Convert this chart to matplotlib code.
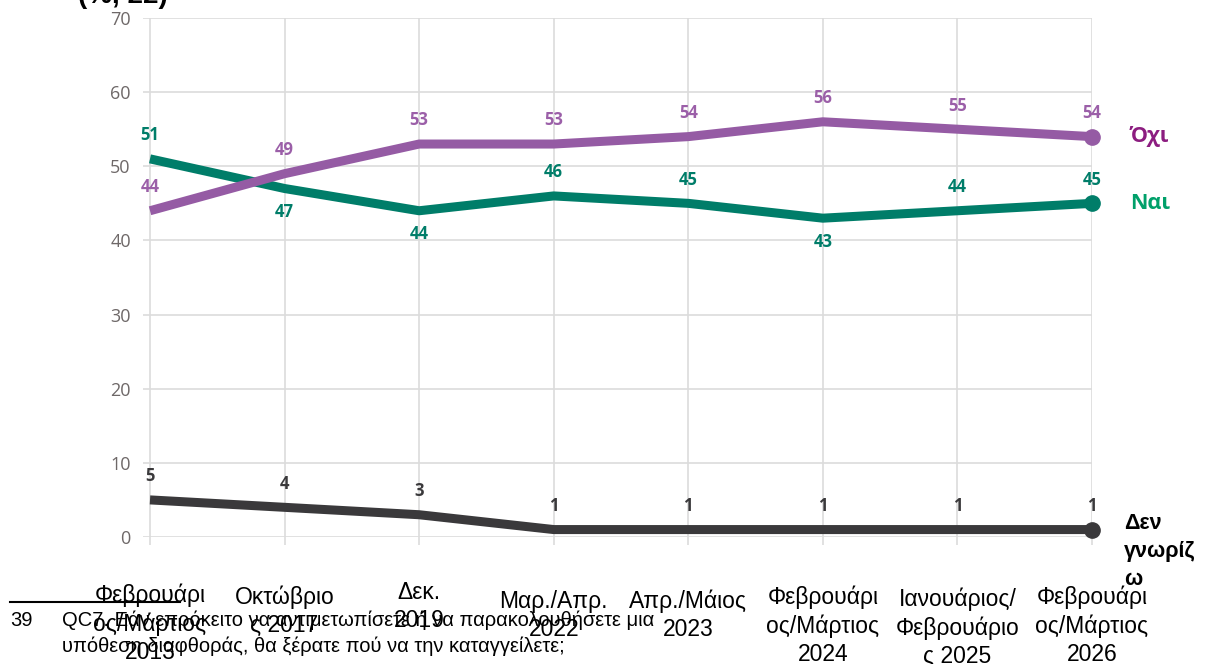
import matplotlib
matplotlib.use("Agg")
import matplotlib.pyplot as plt
import matplotlib.transforms as mtransforms

categories = ["Φεβρουάρι\nος/Μάρτιος\n2013", "Οκτώβριο\nς 2017", "Δεκ.\n2019",
              "Μαρ./Απρ.\n2022", "Απρ./Μάιος\n2023", "Φεβρουάρι\nος/Μάρτιος\n2024",
              "Ιανουάριος/\nΦεβρουάριο\nς 2025", "Φεβρουάρι\nος/Μάρτιος\n2026"]
ochi = [44, 49, 53, 53, 54, 56, 55, 54]
nai = [51, 47, 44, 46, 45, 43, 44, 45]
den = [5, 4, 3, 1, 1, 1, 1, 1]
nai_label_above = [True, False, False, True, True, False, True, True]
yticks = [0, 10, 20, 30, 40, 50, 60, 70]

# layout: first-line baseline of each category label (pixels from top)
cat_baseline_px = [601, 603, 598, 607, 607, 603, 605, 603]

c_ochi, c_ochi_txt, c_ochi_end = "#955ba4", "#9b5fa8", "#8c1d80"
c_nai, c_nai_txt, c_nai_end = "#007d69", "#007d69", "#00a06a"
c_den = "#3a393b"

W, H = 1205, 664
fig = plt.figure(figsize=(W / 100, H / 100), dpi=100)
ax = fig.add_axes([0.1189, 0.1913, 0.7873, 0.7816])
x = list(range(len(categories)))

lw = 6.5
for vals, col in [(den, c_den), (nai, c_nai), (ochi, c_ochi)]:
    ax.plot(x, vals, color=col, lw=lw, solid_capstyle="butt", solid_joinstyle="round",
            clip_on=False, zorder=3)
    ax.plot(x[-1], vals[-1], "o", color=col, ms=11, clip_on=False, zorder=4)

lab_font = dict(family="Open Sans", fontweight="bold", fontsize=12)
off = 17
for i in x:
    ax.annotate(str(ochi[i]), (i, ochi[i]), xytext=(0, off), textcoords="offset points",
                ha="center", va="center", color=c_ochi_txt, **lab_font)
    dy = off if nai_label_above[i] else -off
    ax.annotate(str(nai[i]), (i, nai[i]), xytext=(0, dy), textcoords="offset points",
                ha="center", va="center", color=c_nai_txt, **lab_font)
    ax.annotate(str(den[i]), (i, den[i]), xytext=(0, off), textcoords="offset points",
                ha="center", va="center", color=c_den, **lab_font)

ax.set_xlim(-0.05, 7)
ax.set_ylim(0, 70)
ax.set_yticks(yticks)
ax.set_xticks(x)
ax.set_xticklabels([])
ax.grid(True, color="#dcdcdc", lw=1.2, zorder=0)
for s in ax.spines.values():
    s.set_visible(False)
ax.tick_params(axis="y", length=0, pad=9, labelsize=13, labelcolor="#6e6868")
ax.tick_params(axis="x", length=6, color="#dcdcdc", width=1.2)
for lbl in ax.get_yticklabels():
    lbl.set_family("Open Sans")

# category labels below
cat_fs = 16.5
trans = mtransforms.blended_transform_factory(ax.transData, fig.transFigure)
for i, c in enumerate(categories):
    top_px = cat_baseline_px[i] - 0.75 * cat_fs * 100 / 72
    fig.text(i, 1 - top_px / H, c, transform=trans, ha="center", va="top",
             fontsize=cat_fs, family="Liberation Sans", color="black", linespacing=1.28)

# end labels
ax.text(7.28, ochi[-1], "Όχι", color=c_ochi_end, fontsize=15.5, fontweight="bold",
        family="Open Sans", va="center", ha="left", clip_on=False)
ax.text(7.28, nai[-1], "Ναι", color=c_nai_end, fontsize=15.5, fontweight="bold",
        family="Open Sans", va="center", ha="left", clip_on=False)
ax.text(7.24, 3.2, "Δεν\nγνωρίζ\nω", color="black", fontsize=15.5, fontweight="bold",
        family="Liberation Sans", va="top", ha="left", linespacing=1.42, clip_on=False)

# title fragment (cut off at top)
fig.text(0.065, 1 - 3 / H, "(%, 22)", fontsize=20, fontweight="bold", family="Liberation Sans",
         va="baseline", ha="left", color="black")

# footnote
fig.add_artist(plt.Line2D([10 / W, 180 / W], [1 - 602 / H, 1 - 602 / H],
                          color="black", lw=1.5))
fig.text(10 / W, 1 - 620 / H, "39", fontsize=14.5, family="Liberation Sans", va="center")
fig.text(62 / W, 1 - 620 / H,
         "QC7. Εάν επρόκειτο να αντιμετωπίσετε ή να παρακολουθήσετε μια",
         fontsize=14.5, family="Liberation Sans", va="center")
fig.text(62 / W, 1 - 646 / H,
         "υπόθεση διαφθοράς, θα ξέρατε πού να την καταγγείλετε;",
         fontsize=14.5, family="Liberation Sans", va="center")

fig.savefig("out.png", dpi=100)
